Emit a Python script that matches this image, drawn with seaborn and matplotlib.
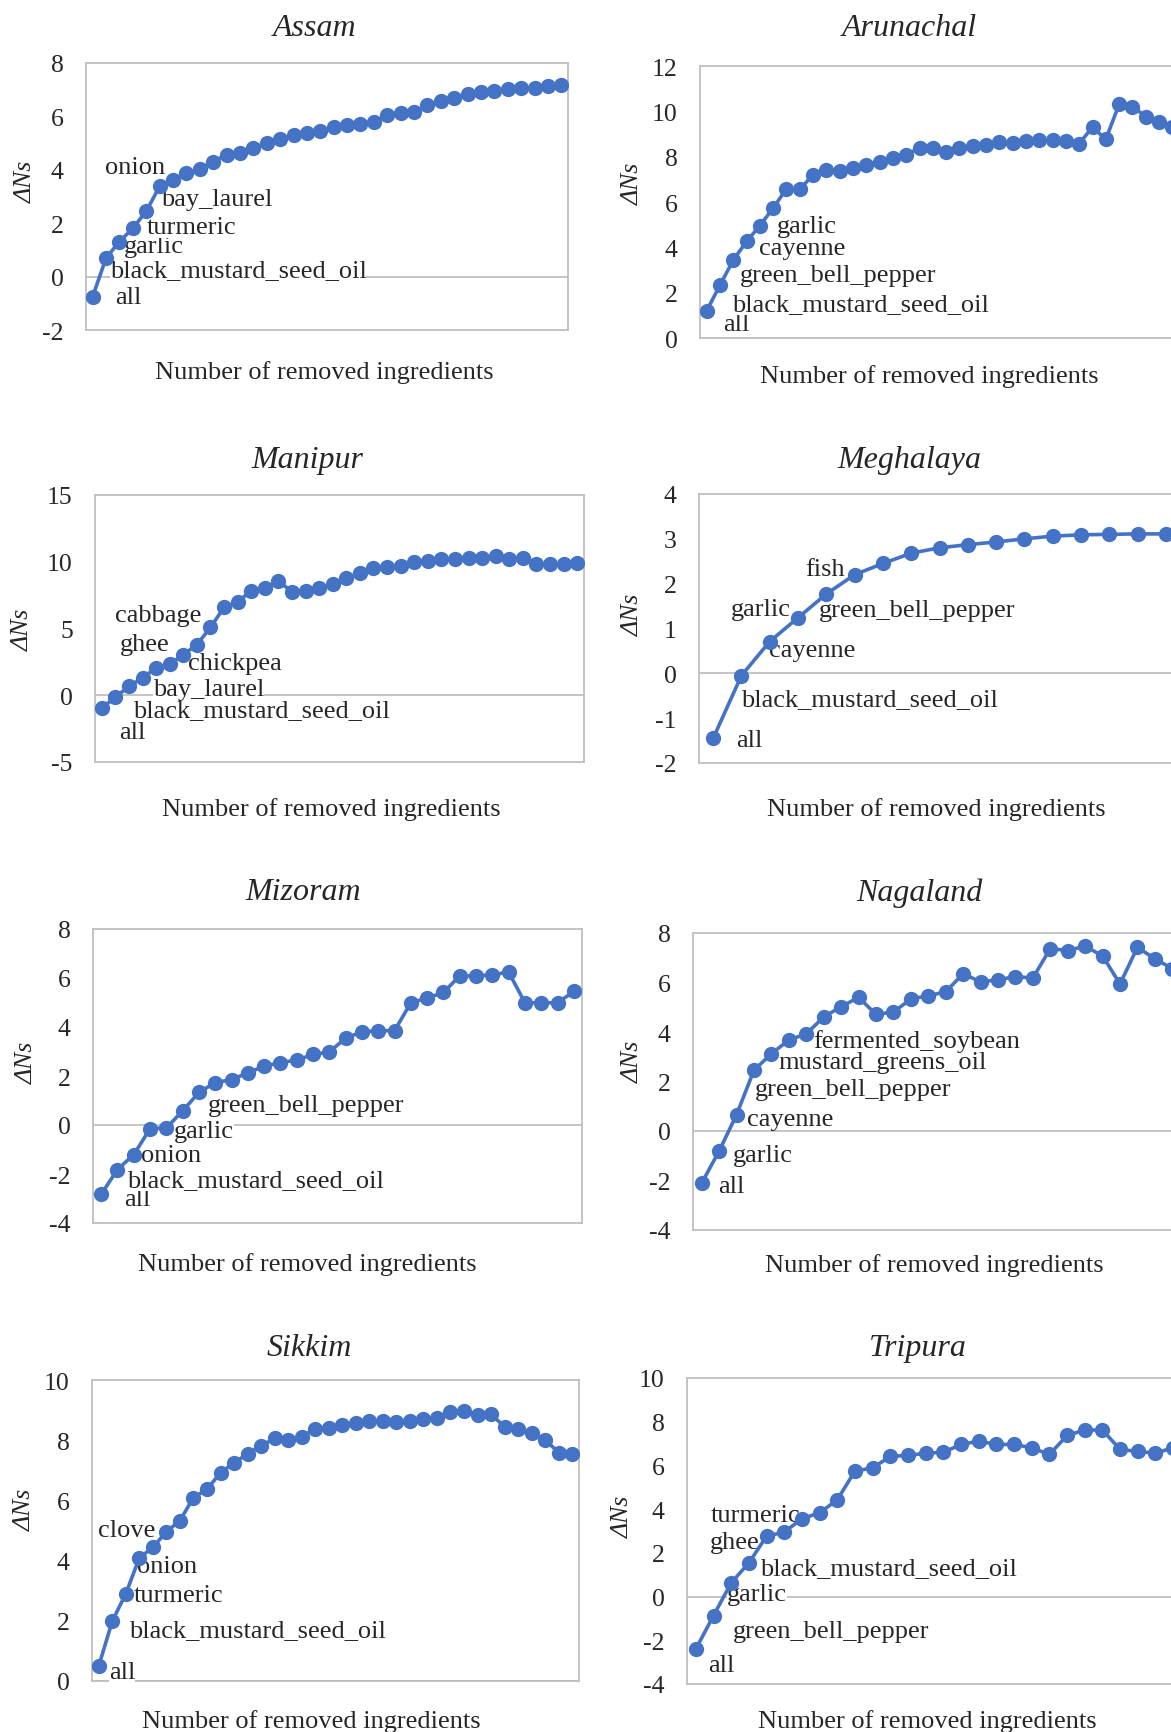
import numpy as np
import pandas as pd
import seaborn as sns
import matplotlib.pyplot as plt

# delta Ns after removing ingredients one by one
assam = [-0.75, 0.70, 1.31, 1.81, 2.45, 3.38, 3.63, 3.89, 4.03, 4.31, 4.56, 4.64,
         4.83, 5.01, 5.14, 5.29, 5.38, 5.46, 5.59, 5.66, 5.71, 5.79, 6.04, 6.13,
         6.16, 6.41, 6.56, 6.69, 6.84, 6.90, 6.96, 7.03, 7.06, 7.06, 7.13, 7.18]
arunachal = [1.20, 2.33, 3.44, 4.26, 4.96, 5.73, 6.59, 6.56, 7.20, 7.39, 7.36, 7.49,
             7.64, 7.75, 7.94, 8.09, 8.38, 8.38, 8.21, 8.40, 8.46, 8.53, 8.63, 8.60,
             8.71, 8.74, 8.74, 8.71, 8.58, 9.30, 8.77, 10.31, 10.21, 9.77, 9.52, 9.30]
manipur = [-0.95, -0.15, 0.67, 1.30, 2.04, 2.34, 3.04, 3.79, 5.08, 6.58, 7.00, 7.82,
           8.04, 8.57, 7.75, 7.82, 8.00, 8.32, 8.82, 9.14, 9.54, 9.64, 9.71, 10.01,
           10.06, 10.19, 10.24, 10.29, 10.31, 10.41, 10.21, 10.31, 9.81, 9.81, 9.86, 9.91]
meghalaya = [-1.45, -0.05, 0.71, 1.24, 1.77, 2.20, 2.45, 2.68, 2.80, 2.87, 2.93, 3.00,
             3.06, 3.09, 3.10, 3.11, 3.11]
mizoram = [-2.83, -1.82, -1.21, -0.15, -0.12, 0.58, 1.33, 1.73, 1.85, 2.13, 2.40, 2.55,
           2.65, 2.88, 2.98, 3.55, 3.80, 3.85, 3.85, 4.99, 5.18, 5.41, 6.09, 6.09,
           6.13, 6.24, 4.99, 4.99, 4.99, 5.45]
nagaland = [-2.10, -0.81, 0.66, 2.46, 3.12, 3.68, 3.92, 4.61, 5.02, 5.40, 4.71, 4.81,
            5.33, 5.47, 5.62, 6.36, 6.02, 6.11, 6.24, 6.18, 7.37, 7.29, 7.47, 7.07,
            5.94, 7.42, 6.96, 6.56]
sikkim = [0.50, 1.99, 2.90, 4.09, 4.44, 4.96, 5.33, 6.09, 6.37, 6.92, 7.25, 7.55,
          7.81, 8.06, 8.00, 8.12, 8.38, 8.41, 8.49, 8.57, 8.64, 8.64, 8.60, 8.63,
          8.69, 8.74, 8.93, 8.97, 8.84, 8.87, 8.44, 8.36, 8.25, 8.01, 7.59, 7.54]
tripura = [-2.40, -0.87, 0.63, 1.54, 2.76, 2.95, 3.56, 3.83, 4.43, 5.74, 5.89, 6.41,
           6.46, 6.56, 6.60, 6.96, 7.11, 6.96, 6.96, 6.81, 6.50, 7.37, 7.62, 7.62,
           6.73, 6.64, 6.56, 6.81]

# names of the removed ingredients shown next to the first points (drawing order)
assam_labels = ["all", "black_mustard_seed_oil", "garlic", "turmeric", "bay_laurel", "onion"]
arunachal_labels = ["all", "green_bell_pepper", "black_mustard_seed_oil", "cayenne", "garlic"]
manipur_labels = ["all", "black_mustard_seed_oil", "bay_laurel", "chickpea", "ghee", "cabbage"]
meghalaya_labels = ["all", "black_mustard_seed_oil", "cayenne", "garlic", "green_bell_pepper", "fish"]
mizoram_labels = ["all", "black_mustard_seed_oil", "onion", "garlic", "green_bell_pepper"]
nagaland_labels = ["all", "garlic", "cayenne", "mustard_greens_oil", "green_bell_pepper", "fermented_soybean"]
sikkim_labels = ["all", "black_mustard_seed_oil", "turmeric", "onion", "clove"]
tripura_labels = ["all", "green_bell_pepper", "garlic", "black_mustard_seed_oil", "ghee", "turmeric"]

BLUE = "#4472C4"
GREY = "#BFBFBF"
W, H = 1171, 1733

# pixel layout: frame (l, t, r, b), title centre, xlabel centre, ylabel centre,
# y axis (lo, hi, step) and label text spots (category offset, value)
layout = {
    "Assam": dict(frame=(86, 64, 568, 331), title=(315, 28), xlab=(324, 373), ylab=(26, 182),
                  y=(-2, 8, 2),
                  spots=[(1.69, -0.78), (1.26, 0.26), (2.33, 1.14), (4.07, 1.85), (5.14, 2.91), (0.93, 4.12)]),
    "Arunachal": dict(frame=(700, 67, 1179, 339), title=(909, 28), xlab=(929, 377), ylab=(633, 184),
                      y=(0, 12, 2),
                      spots=[(1.23, 0.62), (2.48, 2.78), (1.92, 1.50), (3.93, 3.95), (5.27, 4.95)]),
    "Manipur": dict(frame=(95, 496, 584, 763), title=(307, 461), xlab=(331, 810), ylab=(23, 630),
                    y=(-5, 15, 5),
                    spots=[(1.25, -2.74), (2.30, -1.12), (3.74, 0.50), (6.37, 2.42), (1.33, 3.81), (0.97, 5.98)]),
    "Meghalaya": dict(frame=(699, 495, 1180, 764), title=(909, 461), xlab=(936, 810), ylab=(633, 615),
                      y=(-2, 4, 1),
                      spots=[(0.81, -1.48), (0.97, -0.57), (1.97, 0.53), (0.61, 1.44), (3.74, 1.42), (3.25, 2.32)]),
    "Mizoram": dict(frame=(93, 930, 582, 1224), title=(303, 893), xlab=(307, 1265), ylab=(27, 1063),
                    y=(-4, 8, 2),
                    spots=[(1.43, -3.02), (1.59, -2.23), (2.47, -1.21), (4.48, -0.26), (6.56, 0.83)]),
    "Nagaland": dict(frame=(693, 934, 1181, 1231), title=(919, 893), xlab=(934, 1266), ylab=(633, 1062),
                     y=(-4, 8, 2),
                     spots=[(0.94, -2.22), (1.79, -0.96), (2.57, 0.50), (4.40, 2.79), (3.06, 1.68), (6.40, 3.66)]),
    "Sikkim": dict(frame=(92, 1381, 579, 1682), title=(309, 1348), xlab=(311, 1722), ylab=(25, 1510),
                   y=(0, 10, 2),
                   spots=[(0.75, 0.30), (2.23, 1.68), (2.56, 2.85), (2.84, 3.82), (-0.03, 5.0)]),
    "Tripura": dict(frame=(687, 1379, 1182, 1685), title=(918, 1349), xlab=(927, 1722), ylab=(623, 1517),
                    y=(-4, 10, 2),
                    spots=[(0.69, -3.11), (2.10, -1.56), (1.74, 0.12), (3.63, 1.31), (0.78, 2.49), (0.84, 3.74)]),
}

series = {
    "Assam": (assam, assam_labels),
    "Arunachal": (arunachal, arunachal_labels),
    "Manipur": (manipur, manipur_labels),
    "Meghalaya": (meghalaya, meghalaya_labels),
    "Mizoram": (mizoram, mizoram_labels),
    "Nagaland": (nagaland, nagaland_labels),
    "Sikkim": (sikkim, sikkim_labels),
    "Tripura": (tripura, tripura_labels),
}

sns.set_theme(style="white")
plt.rcParams["font.family"] = ["Liberation Serif", "DejaVu Serif"]
plt.rcParams["axes.unicode_minus"] = False

fig = plt.figure(figsize=(W / 100, H / 100), dpi=100)

for state, (values, names) in series.items():
    lay = layout[state]
    l, t, r, b = lay["frame"]
    ax = fig.add_axes([l / W, 1 - b / H, (r - l) / W, (b - t) / H])

    df = pd.DataFrame({"step": np.arange(len(values)), "dns": values})
    sns.lineplot(data=df, x="step", y="dns", ax=ax, color=BLUE, linewidth=2.6,
                 marker="o", markersize=11, markeredgewidth=0)
    ax.lines[-1].set_zorder(5)
    ax.axhline(0, color=GREY, linewidth=1.3, zorder=1)

    for name, (sx, sy) in zip(names, lay["spots"]):
        ax.text(sx, sy, name, ha="left", va="center", fontsize=19, zorder=3,
                bbox=dict(facecolor="white", edgecolor="none", pad=0))

    lo, hi, step = lay["y"]
    ax.set_xlim(-0.5, len(values) - 0.5)
    ax.set_ylim(lo, hi)
    ax.set_yticks(np.arange(lo, hi + step / 2, step))
    ax.set_yticklabels([f"{v:g}" for v in np.arange(lo, hi + step / 2, step)])
    ax.set_xticks([])
    ax.tick_params(axis="y", length=0, pad=16, labelsize=18.5)
    for sp in ax.spines.values():
        sp.set_color(GREY)
        sp.set_linewidth(1.3)

    def to_ax(p):
        return (p[0] - l) / (r - l), (b - p[1]) / (b - t)

    tx, ty = to_ax(lay["title"])
    ax.set_title(state, fontsize=23, fontstyle="italic", x=tx, y=ty, va="center", pad=0)

    ax.set_xlabel("Number of removed ingredients", fontsize=19)
    ax.xaxis.set_label_coords(*to_ax(lay["xlab"]))
    ax.xaxis.label.set_va("center")

    ax.set_ylabel("ΔNs", fontsize=18.5, fontstyle="italic")
    ax.yaxis.set_label_coords(*to_ax(lay["ylab"]))
    ax.yaxis.label.set_va("center")

fig.savefig("out.png", dpi=100, facecolor="white")
